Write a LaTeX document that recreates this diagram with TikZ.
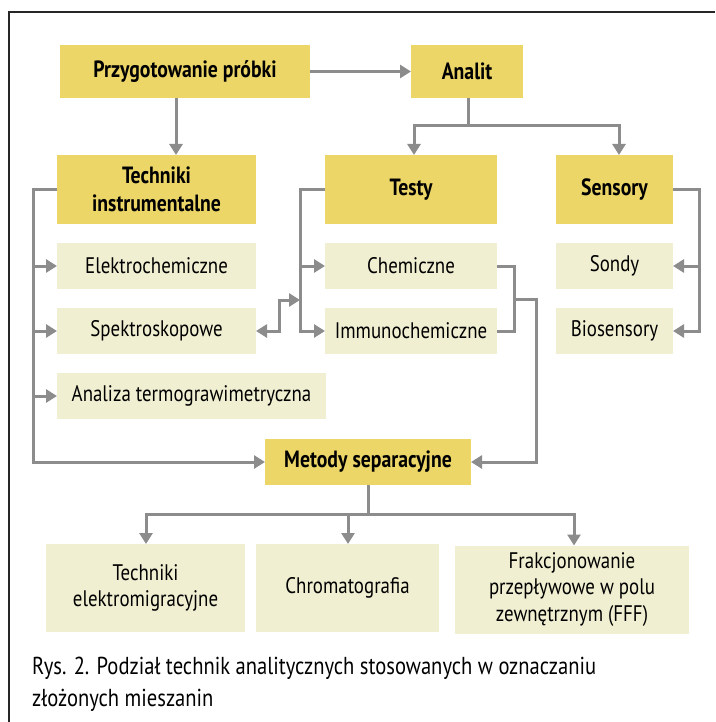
\documentclass[tikz,border=0pt]{standalone}
\usepackage{fontspec}
\setmainfont{PT Sans}[FakeStretch=0.84]
\usetikzlibrary{arrows.meta}
\definecolor{boxdark}{HTML}{EBD667}
\definecolor{boxlight}{HTML}{F1EFD1}
\definecolor{conn}{HTML}{8C8C8C}
\tikzset{
  mainbox/.style={fill=boxdark, inner sep=0pt, outer sep=0pt, align=center,
    font=\fontsize{23.5}{28}\selectfont\bfseries},
  subbox/.style={fill=boxlight, inner sep=0pt, outer sep=0pt, align=center,
    font=\fontsize{22.5}{26.5}\selectfont},
  link/.style={draw=conn, line width=3pt},
  arr/.style={link, -{Triangle[length=11pt,width=13pt]}},
  dbl/.style={link, {Triangle[length=11pt,width=13pt]}-{Triangle[length=11pt,width=13pt]}},
}
\begin{document}
\begin{tikzpicture}[x=1pt,y=-1pt]
\useasboundingbox (0,0) rectangle (715,722);
% frame
\draw[line width=1.5pt, black!85] (715,12) -- (9,12) -- (9,722);

% top level
\node[mainbox, minimum width=250pt, minimum height=53pt] (prz) at (185,71.5) {Przygotowanie próbki};
\node[mainbox, minimum width=112pt, minimum height=53pt] (analit) at (467,71.5) {Analit};

% second level
\node[mainbox, minimum width=199pt, minimum height=69pt] (tech) at (156.5,189.5) {Techniki\\instrumentalne};
\node[mainbox, minimum width=172pt, minimum height=69pt] (testy) at (411,189.5) {Testy};
\node[mainbox, minimum width=117pt, minimum height=69pt] (sens) at (614.5,189.5) {Sensory};

% sub-techniques
\node[subbox, minimum width=199pt, minimum height=46pt] (elek) at (156.5,266) {Elektrochemiczne};
\node[subbox, minimum width=199pt, minimum height=46pt] (spek) at (156.5,331) {Spektroskopowe};
\node[subbox, minimum width=269pt, minimum height=46pt] (term) at (191.5,396) {Analiza termograwimetryczna};
\node[subbox, minimum width=172pt, minimum height=46pt] (chem) at (411,266) {Chemiczne};
\node[subbox, minimum width=172pt, minimum height=46pt] (immu) at (411,331) {Immunochemiczne};
\node[subbox, minimum width=117pt, minimum height=46pt] (sond) at (614.5,266) {Sondy};
\node[subbox, minimum width=117pt, minimum height=46pt] (bios) at (614.5,331) {Biosensory};

% separation
\node[mainbox, minimum width=206pt, minimum height=46pt] (meto) at (368,462) {Metody separacyjne};
\node[subbox, minimum width=199pt, minimum height=88pt] (elmi) at (145.5,588) {Techniki\\elektromigracyjne};
\node[subbox, minimum width=183pt, minimum height=88pt] (chro) at (347.5,588) {Chromatografia};
\node[subbox, minimum width=234pt, minimum height=88pt] (fff) at (572,589.5) {Frakcjonowanie\\przepływowe w polu\\zewnętrznym (FFF)};

% caption
\node[anchor=west, inner sep=0pt, align=left, font=\fontsize{24.5}{32}\selectfont] (cap) at (32,684.5)
  {Rys. 2. Podział technik analitycznych stosowanych w oznaczaniu\\złożonych mieszanin};

% helper points
\coordinate (a1) at (468,126);
\coordinate (tl) at (33,0);
\coordinate (tt) at (300,0);
\coordinate (cr) at (514,0);
\coordinate (cm) at (536,0);
\coordinate (sr) at (699,0);
\coordinate (sx) at (279,0);
\coordinate (mb) at (368,514);

% connectors
\draw[arr] (prz.east) -- (analit.west);
\draw[arr] ([xshift=-9pt]prz.south) -- ([xshift=-9pt]prz.south |- tech.north);
\draw[link] (analit.south -| a1) -- (a1);
\draw[arr] (a1) -| ([xshift=3pt]testy.north);
\draw[arr] (a1) -| ([xshift=4.5pt]sens.north);

% instrumental techniques bracket
\draw[arr] (tech.west) -| (tl |- meto.west) -- (meto.west);
\draw[arr] (tl |- elek.west) -- (elek.west);
\draw[arr] (tl |- spek.west) -- (spek.west);
\draw[arr] (tl |- term.west) -- (term.west);

% tests bracket
\draw[arr] (testy.west) -| (tt |- immu.west) -- (immu.west);
\draw[arr] (tt |- chem.west) -- (chem.west);
\draw[dbl] (spek.east) -- (sx |- spek.east) -- ([yshift=31pt]sx |- spek.east) -- ([yshift=31pt]tt |- spek.east);

% chemical tests feed separation methods
\draw[link] (chem.east) -| (cr |- immu.east) -- (immu.east);
\draw[arr] ([yshift=32pt]cr |- immu.east) -| (cm |- meto.east) -- (meto.east);

% sensors bracket
\draw[arr] (sens.east) -| (sr |- bios.east) -- (bios.east);
\draw[arr] (sr |- sond.east) -- (sond.east);

% separation branches
\draw[link] (meto.south) -- (mb);
\draw[arr] (mb) -| ([xshift=0.5pt]elmi.north);
\draw[arr] (mb) -| ([xshift=0.5pt]chro.north);
\draw[arr] (mb) -| ([xshift=2pt]fff.north);
\end{tikzpicture}
\end{document}
